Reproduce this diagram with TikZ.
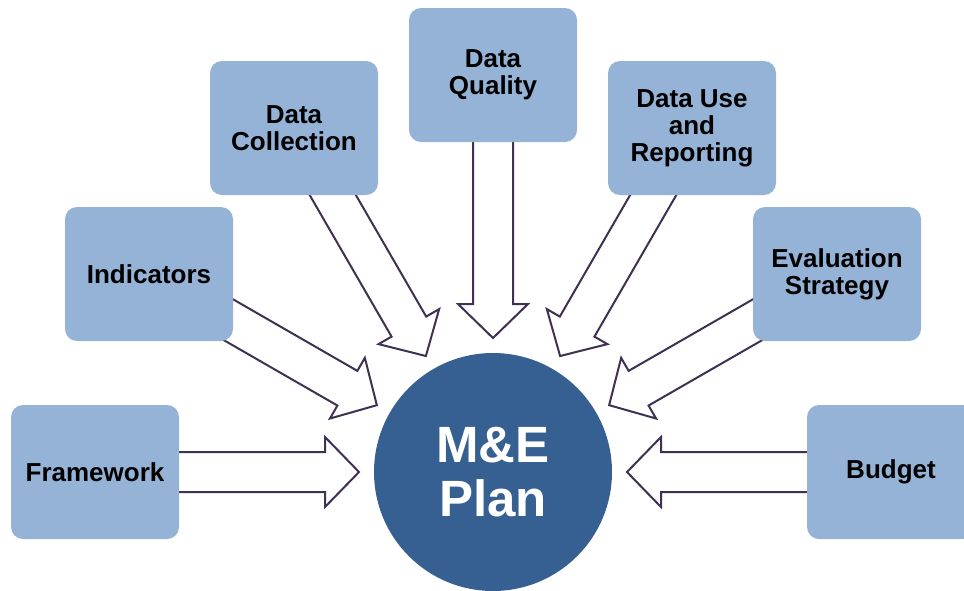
\documentclass[tikz,border=0pt]{standalone}
\usepackage{fontspec}
\setmainfont{Liberation Sans}
\usetikzlibrary{calc,backgrounds}
\definecolor{boxblue}{HTML}{95B3D7}
\definecolor{planblue}{HTML}{376092}
\definecolor{flowline}{HTML}{3F3151}
\tikzstyle{block} = [fill=boxblue, rectangle, rounded corners=12pt,
    minimum width=168pt, minimum height=134pt, inner sep=0pt,
    align=center, font=\fontsize{26}{27}\selectfont\bfseries]
\tikzstyle{plan} = [fill=planblue, circle, minimum size=238pt, inner sep=0pt,
    align=center, text=white, font=\fontsize{51}{54}\selectfont\bfseries]
\tikzstyle{flow} = [draw=flowline, fill=white, line width=2pt, line join=miter]
% hollow block arrow from a box towards the plan
\newcommand{\blockarrow}[1]{%
    \coordinate (tip) at ($(plan.center)!134pt!(#1.center)$);
    \coordinate (hb) at ($(tip)!34pt!(#1.center)$);
    \filldraw [flow] ($(#1.center)!20pt!90:(tip)$) -- ($(hb)!20pt!-90:(#1.center)$)
        -- ($(hb)!35pt!-90:(#1.center)$) -- (tip) -- ($(hb)!35pt!90:(#1.center)$)
        -- ($(hb)!20pt!90:(#1.center)$) -- ($(#1.center)!20pt!-90:(tip)$);
}

\begin{document}
\begin{tikzpicture}[x=1pt, y=-1pt]
    \useasboundingbox (0,0) rectangle (964,590);
    \node [plan] (plan) at (493,472) {M\&E\\Plan};
    \node [block] (framework) at (95,472) {Framework};
    \node [block] (indicators) at (149,274) {Indicators};
    \node [block] (collection) at (294,128) {Data\\Collection};
    \node [block] (quality) at (493,75) {Data\\Quality};
    \node [block] (reporting) at (692,128) {Data Use\\and\\Reporting};
    \node [block] (evaluation) at (837,274) {Evaluation\\Strategy};
    \node [block] (budget) at (891,472) {Budget};
    \begin{scope}[on background layer]
        \foreach \src in {framework,indicators,collection,quality,reporting,evaluation,budget}
            {\blockarrow{\src}}
    \end{scope}
\end{tikzpicture}
\end{document}
